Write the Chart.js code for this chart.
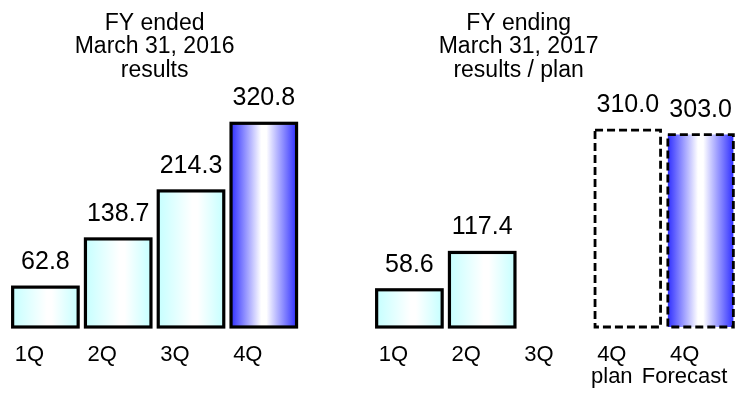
<!DOCTYPE html>
<html>
<head>
<meta charset="utf-8">
<script src="https://cdn.jsdelivr.net/npm/chart.js@4.4.1/dist/chart.umd.min.js"></script>
<style>
  html, body { margin: 0; padding: 0; background: #fff; }
  #wrap { width: 742px; height: 395px; position: relative; }
</style>
</head>
<body>
<div id="wrap"><canvas id="quarterly-graph"></canvas></div>
<script>
// FY ended March 31, 2016 (results)
const labels2016 = ['1Q', '2Q', '3Q', '4Q'];
const values2016 = [62.8, 138.7, 214.3, 320.8];

// FY ending March 31, 2017 (results / plan)
const labels2017 = ['1Q', '2Q', '3Q', ['4Q', 'plan'], ['4Q', 'Forecast']];
const values2017 = [58.6, 117.4, null, 310.0, 303.0];

const title2016 = ['FY ended', 'March 31, 2016', 'results'];
const title2017 = ['FY ending', 'March 31, 2017', 'results / plan'];

// bar kind per category: 'cyan', 'blue', 'plan'
const kinds2016 = ['cyan', 'cyan', 'cyan', 'blue'];
const kinds2017 = ['cyan', 'cyan', 'cyan', 'plan', 'blue'];
const dashed2016 = [false, false, false, false];
const dashed2017 = [false, false, false, true, true];

const labels = [...labels2016, '', ...labels2017];
const values = [...values2016, null, ...values2017];
const kinds = [...kinds2016, null, ...kinds2017];
const dashed = [...dashed2016, false, ...dashed2017];

const FONT = '"Liberation Sans", Arial, sans-serif';
const BAR_PCT = 0.9;

function barFill(context) {
    const chart = context.chart;
    const kind = kinds[context.dataIndex];
    if (kind === 'plan' || !chart.chartArea) return '#ffffff';
    const xs = chart.scales.x;
    const cx = xs.getPixelForValue(context.dataIndex);
    const w = xs.width / labels.length * BAR_PCT;
    const g = chart.ctx.createLinearGradient(cx - w / 2, 0, cx + w / 2, 0);
    if (kind === 'blue') {
        g.addColorStop(0, '#3030ff');
        g.addColorStop(0.46, '#ffffff');
        g.addColorStop(0.54, '#ffffff');
        g.addColorStop(1, '#3030ff');
    } else {
        g.addColorStop(0, '#c6ffff');
        g.addColorStop(0.52, '#ffffff');
        g.addColorStop(0.6, '#ffffff');
        g.addColorStop(1, '#c6ffff');
    }
    return g;
}

// outlines (solid / dashed), value labels and the two group titles
const decorPlugin = {
    id: 'decor',
    afterDatasetsDraw(chart) {
        const ctx = chart.ctx;
        const meta = chart.getDatasetMeta(0);
        const xs = chart.scales.x;
        ctx.save();
        meta.data.forEach((bar, i) => {
            if (values[i] === null) return;
            const { x, y, base, width } = bar.getProps(['x', 'y', 'base', 'width'], true);
            ctx.lineWidth = dashed[i] ? 2.8 : 3.2;
            ctx.strokeStyle = '#000';
            ctx.setLineDash(dashed[i] ? [8, 4] : []);
            ctx.strokeRect(x - width / 2, y, width, base - y);
            ctx.setLineDash([]);
            ctx.fillStyle = '#000';
            ctx.font = '25px ' + FONT;
            ctx.textAlign = 'center';
            ctx.textBaseline = 'alphabetic';
            ctx.fillText(values[i].toFixed(1), x, y - 18);
        });

        ctx.font = '23px ' + FONT;
        ctx.textAlign = 'center';
        ctx.fillStyle = '#000';
        const c16 = (xs.getPixelForValue(0) + xs.getPixelForValue(3)) / 2;
        const c17 = (xs.getPixelForValue(5) + xs.getPixelForValue(8)) / 2;
        title2016.forEach((t, k) => ctx.fillText(t, c16, 29.5 + k * 23.5));
        title2017.forEach((t, k) => ctx.fillText(t, c17, 29.5 + k * 23.5));
        ctx.restore();
    }
};

new Chart(document.getElementById('quarterly-graph'), {
    type: 'bar',
    data: {
        labels: labels,
        datasets: [{
            data: values,
            backgroundColor: barFill,
            borderWidth: 0,
            barPercentage: BAR_PCT,
            categoryPercentage: 1.0
        }]
    },
    options: {
        responsive: true,
        maintainAspectRatio: false,
        animation: false,
        events: [],
        layout: { padding: { left: 9, right: 5, top: 73, bottom: 7 } },
        plugins: {
            legend: { display: false },
            tooltip: { enabled: false }
        },
        scales: {
            x: {
                grid: { display: true, color: 'transparent', drawOnChartArea: false, drawTicks: true, tickLength: 17 },
                border: { display: false },
                ticks: {
                    color: '#000',
                    font: { family: FONT, size: 22, lineHeight: 1 },
                    padding: 0,
                    labelOffset: -16,
                    maxRotation: 0,
                    autoSkip: false
                },
                afterFit(scale) {
                    scale.paddingLeft = 0;
                    scale.paddingRight = 0;
                }
            },
            y: {
                display: false,
                min: 0,
                max: 400
            }
        }
    },
    plugins: [decorPlugin]
});
</script>
</body>
</html>
